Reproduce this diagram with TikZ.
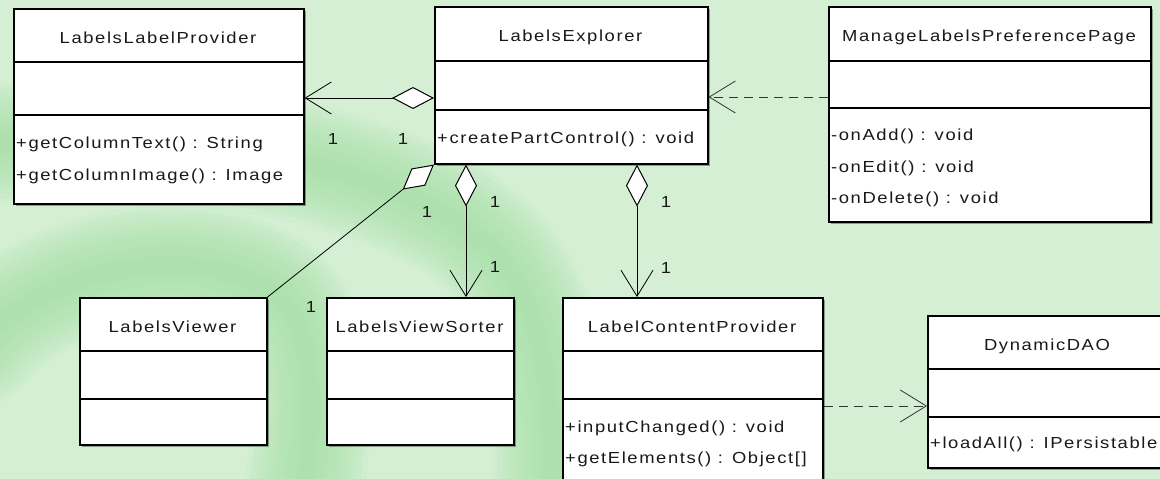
\documentclass[tikz,border=0pt]{standalone}
\usepackage{fontspec}
\setmainfont{Liberation Sans}[LetterSpace=10, FakeStretch=1.15]
\usetikzlibrary{arrows.meta,shadows}
\definecolor{bgbase}{HTML}{D4EFD4}
\definecolor{bgdark}{HTML}{A0DEA0}
\newcommand\umlcls[8]{%
  \node[cls, minimum width={#4-#2}, minimum height={#5-#3}] (#1) at (#2,#3) {};
  \draw[sepline] (#1.west |- 0,#6) -- (#1.east |- 0,#6);
  \draw[sepline] (#1.west |- 0,#7) -- (#1.east |- 0,#7);
  \node[ttl] (#1-t) at ({(#2+#4)/2},{(#3+#6)/2+8}) {#8};
}
\begin{document}
\begin{tikzpicture}[x=1pt,y=-1pt,
  cls/.style={draw=black, line width=1.6pt, fill=white, anchor=north west, inner sep=0pt,
    drop shadow={shadow xshift=2pt, shadow yshift=-2pt, opacity=0.35, fill=black}},
  sepline/.style={line width=1.6pt},
  ttl/.style={font=\fontsize{16}{19}\selectfont, text=black!90, inner sep=0pt, anchor=base},
  op/.style={font=\fontsize{16}{19}\selectfont, text=black!90, inner sep=0pt, anchor=base west},
  mult/.style={font=\fontsize{16}{19}\selectfont, text=black!90, inner sep=0pt},
  conn/.style={line width=1pt},
  agg/.style={conn, {Diamond[fill=white, length=42pt, width=22pt, line width=1pt]}-{Straight Barb[length=26pt, width=32pt, line width=0.8pt]}},
  aggonly/.style={line width=0.8pt, {Diamond[fill=white, length=40pt, width=22pt, line width=1pt]}-},
  dep/.style={conn, draw=black!80, dash pattern=on 9pt off 6pt, -{Straight Barb[length=26pt, width=32pt, line width=0.8pt]}},
  band/.style={draw=bgdark, line cap=round}
]
\useasboundingbox (0,0) rectangle (1160,479);
% background
\begin{scope}
  \clip (0,0) rectangle (1160,479);
  \fill[bgbase] (0,0) rectangle (1160,479);
  \foreach \w in {120,110,...,10}{
    \draw[band, line width=\w pt, opacity=0.09]
      (-20,145) .. controls (200,125) and (430,170) .. (505,265)
      .. controls (545,320) and (555,400) .. (552,520);
    \draw[band, line width=\w pt, opacity=0.09]
      (-20,345) .. controls (40,270) and (190,240) .. (270,290)
      .. controls (320,325) and (315,420) .. (300,520);
  }
\end{scope}

% classes
\umlcls{llp}{13}{8}{303}{203}{62}{115}{LabelsLabelProvider}
\umlcls{lex}{434}{6}{707}{163}{61}{110}{LabelsExplorer}
\umlcls{mlp}{828}{6}{1150}{221}{61}{108}{ManageLabelsPreferencePage}
\umlcls{lvw}{79}{297}{266}{444}{351}{399}{LabelsViewer}
\umlcls{lvs}{326}{297}{513}{444}{351}{399}{LabelsViewSorter}
\umlcls{lcp}{562}{297}{822}{500}{351}{399}{LabelContentProvider}
\umlcls{dao}{927}{315}{1167}{467}{369}{417}{DynamicDAO}

% operations
\node[op] (llp-o1) at (16,148) {+getColumnText() : String};
\node[op] (llp-o2) at (16,180) {+getColumnImage() : Image};
\node[op] (lex-o1) at (437,143) {+createPartControl() : void};
\node[op] (mlp-o1) at (831,140) {-onAdd() : void};
\node[op] (mlp-o2) at (831,172) {-onEdit() : void};
\node[op] (mlp-o3) at (831,203) {-onDelete() : void};
\node[op] (lcp-o1) at (565,432) {+inputChanged() : void};
\node[op] (lcp-o2) at (565,463) {+getElements() : Object[]};
\node[op] (dao-o1) at (930,448) {+loadAll() : IPersistable};

% connectors
\draw[agg] (lex.west |- 0,98) -- (llp.east |- 0,98);
\draw[dep] (mlp.west |- 0,97) -- (lex.east |- 0,97);
\draw[aggonly] (lex.south west) -- (lvw.north east);
\draw[agg] (lex.south -| 466,0) -- (lvs.north -| 466,0);
\draw[agg] (lex.south -| 637,0) -- (lcp.north -| 637,0);
\draw[dep] (lcp.east |- 0,406) -- (dao.west |- 0,406);

% multiplicities
\node[mult] (m1) at (333,139) {1};
\node[mult] (m2) at (403,139) {1};
\node[mult] (m3) at (427,212) {1};
\node[mult] (m4) at (311,307) {1};
\node[mult] (m5) at (495,202) {1};
\node[mult] (m6) at (495,267) {1};
\node[mult] (m7) at (666,202) {1};
\node[mult] (m8) at (666,268) {1};
\end{tikzpicture}
\end{document}
